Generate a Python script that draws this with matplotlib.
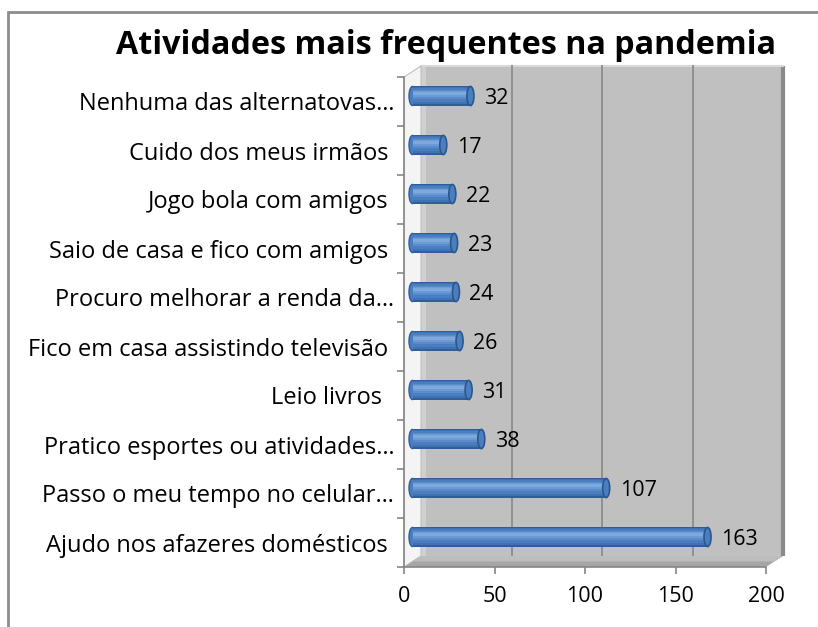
"""
Gráfico de barras horizontais (estilo 3D do Excel): atividades mais
frequentes na pandemia. Salva out.png com ~818x627 px.
"""

import numpy as np
import matplotlib.pyplot as plt
from matplotlib.patches import Polygon, Ellipse, Rectangle

plt.rcParams["font.family"] = ["Open Sans", "DejaVu Sans"]

# Categorias de baixo para cima (a primeira fica junto ao eixo X)
categorias = [
    "Ajudo nos afazeres domésticos ",
    "Passo o meu tempo no celular…",
    "Pratico esportes ou atividades…",
    "Leio livros  ",
    "Fico em casa assistindo televisão ",
    "Procuro melhorar a renda da…",
    "Saio de casa e fico com amigos ",
    "Jogo bola com amigos ",
    "Cuido dos meus irmãos ",
    "Nenhuma das alternatovas…",
]
valores = [163, 107, 38, 31, 26, 24, 23, 22, 17, 32]
ticks_x = [0, 50, 100, 150, 200]
titulo = "Atividades mais frequentes na pandemia"

W, H = 818, 627
# Caixa do plano da frente, em pixels da figura
AX_L, AX_R, AX_B, AX_T = 404, 766, 567, 77
XMAX = 200
N = len(categorias)

# Profundidade do efeito 3D (em pixels) convertida para unidades de dados
DEPTH_PX = (17, 11)
DX = DEPTH_PX[0] * XMAX / (AX_R - AX_L)
DY = DEPTH_PX[1] * N / (AX_B - AX_T)

AXIS_GRAY = "#868686"
FS_NUM = 15.5   # números (eixo X e rótulos das barras)
FS_CAT = 17     # nomes das categorias

# camadas do cilindro: (altura relativa, deslocamento vertical relativo, cor)
CYL_LAYERS = [
    (1.00, 0.00, "#2F5E9A"),
    (0.86, 0.02, "#3F72B2"),
    (0.70, 0.05, "#4A7EBF"),
    (0.50, 0.09, "#5A8CCB"),
    (0.32, 0.12, "#6C9AD4"),
    (0.16, 0.14, "#7FA8DC"),
]


def draw_walls(ax):
    # parede do fundo
    ax.add_patch(Polygon([(DX, DY), (XMAX + DX, DY), (XMAX + DX, N + DY), (DX, N + DY)],
                         closed=True, facecolor="#C0C0C0", edgecolor="none",
                         clip_on=False, zorder=1))
    # faixa mais clara junto à parede lateral
    ax.add_patch(Rectangle((DX, DY), 3, N, facecolor="#D0D0D0", edgecolor="none",
                           clip_on=False, zorder=1.1))
    # borda direita escura
    ax.plot([XMAX + DX, XMAX + DX], [DY, N + DY], color="#8A8A8A", lw=3,
            clip_on=False, zorder=1.2, solid_capstyle="butt")
    ax.plot([DX, XMAX + DX], [N + DY, N + DY], color="#D9D9D9", lw=1.5,
            clip_on=False, zorder=1.2)
    # linhas de grade na parede do fundo
    for x in ticks_x[1:-1]:
        ax.plot([x + DX, x + DX], [DY, N + DY], color="#8C8C8C", lw=1.3,
                clip_on=False, zorder=1.3)
    # parede lateral esquerda
    ax.add_patch(Polygon([(0, 0), (DX, DY), (DX, N + DY), (0, N)], closed=True,
                         facecolor="#F4F4F4", edgecolor="#BFBFBF", lw=0.8,
                         clip_on=False, zorder=1.5))
    # piso
    ax.add_patch(Polygon([(0, 0), (XMAX, 0), (XMAX + DX, DY), (DX, DY)], closed=True,
                         facecolor="#A6A6A6", edgecolor="none",
                         clip_on=False, zorder=1.6))
    ax.add_patch(Polygon([(DX * 0.5, DY * 0.5), (XMAX + DX * 0.5, DY * 0.5),
                          (XMAX + DX, DY), (DX, DY)], closed=True,
                         facecolor="#BDBDBD", edgecolor="none",
                         clip_on=False, zorder=1.7))


def draw_bars(ax):
    y = np.arange(N) + 0.5 + DY / 2
    left = DX / 2
    h = 0.39
    cap_w = 7 * XMAX / (AX_R - AX_L)
    # corpo do cilindro em camadas para simular o sombreamento
    for i, (rel_h, shift, cor) in enumerate(CYL_LAYERS):
        ax.barh(y + shift * h, valores, left=left, height=h * rel_h, color=cor,
                edgecolor="none", zorder=3 + i * 0.01)
    for yi, v in zip(y, valores):
        # tampas arredondadas
        ax.add_patch(Ellipse((left, yi), cap_w, h, facecolor="#4A7EBF",
                             edgecolor="#2F5E9A", lw=1, zorder=2.9, clip_on=False))
        ax.add_patch(Ellipse((left + v, yi), cap_w, h, facecolor="#4A7EBF",
                             edgecolor="#2A578F", lw=1.2, zorder=3.3, clip_on=False))
        ax.text(left + v + cap_w / 2 + 10 * XMAX / (AX_R - AX_L), yi - 0.06, str(v),
                fontsize=FS_NUM, va="center", ha="left", color="black", zorder=4)


def main():
    fig = plt.figure(figsize=(W / 100, H / 100), dpi=100)
    fig.patch.set_facecolor("white")

    # moldura externa do gráfico (cortada nas bordas direita e inferior)
    fig.add_artist(Rectangle((8 / W, -0.05), 1.1, (H - 12) / H + 0.05,
                             transform=fig.transFigure, facecolor="none",
                             edgecolor="#8C8C8C", lw=2.0))

    ax = fig.add_axes([AX_L / W, (H - AX_B) / H, (AX_R - AX_L) / W, (AX_B - AX_T) / H])
    ax.set_xlim(0, XMAX)
    ax.set_ylim(0, N)
    ax.patch.set_visible(False)
    for s in ("top", "right"):
        ax.spines[s].set_visible(False)
    for s in ("bottom", "left"):
        ax.spines[s].set_color(AXIS_GRAY)
        ax.spines[s].set_linewidth(1.2)
        ax.spines[s].set_zorder(5)

    draw_walls(ax)
    draw_bars(ax)

    ax.set_xticks(ticks_x)
    ax.set_xticklabels([str(t) for t in ticks_x], fontsize=FS_NUM)
    ax.tick_params(axis="x", length=5, width=1.2, color=AXIS_GRAY, pad=9)

    ax.set_yticks(np.arange(N + 1))
    ax.set_yticklabels([])
    ax.tick_params(axis="y", which="major", length=5, width=1.2, color=AXIS_GRAY)
    ax.set_yticks(np.arange(N) + 0.5, minor=True)
    ax.set_yticklabels(categorias, minor=True, fontsize=FS_CAT)
    ax.tick_params(axis="y", which="minor", length=0, pad=7)

    fig.text(446 / W, 1 - 45 / H, titulo, fontsize=23.2, fontweight="bold",
             ha="center", va="center")

    fig.savefig("out.png", dpi=100)


if __name__ == "__main__":
    main()
